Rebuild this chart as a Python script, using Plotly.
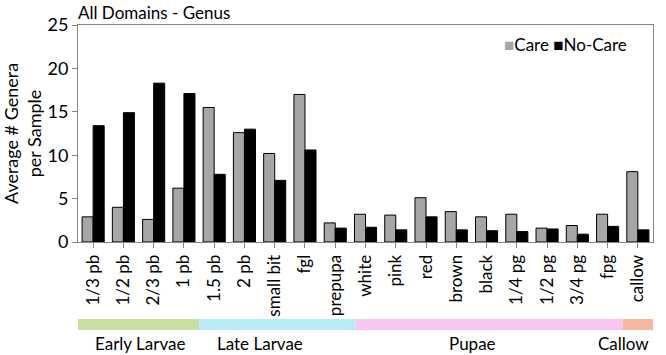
import plotly.graph_objects as go

categories = ["1/3 pb", "1/2 pb", "2/3 pb", "1 pb", "1.5 pb", "2 pb", "small bit", "fgl",
              "prepupa", "white", "pink", "red", "brown", "black", "1/4 pg", "1/2 pg",
              "3/4 pg", "fpg", "callow"]
care = [2.9, 4.0, 2.6, 6.2, 15.5, 12.6, 10.2, 17.0, 2.2, 3.2, 3.1, 5.1, 3.5, 2.9, 3.2, 1.6, 1.9, 3.2, 8.1]
no_care = [13.4, 14.9, 18.3, 17.1, 7.8, 13.0, 7.1, 10.6, 1.6, 1.7, 1.4, 2.9, 1.4, 1.3, 1.2, 1.5, 0.9, 1.8, 1.4]

series_names = ["Care", "No-Care"]
series_colors = ["#a6a6a6", "#000000"]

stage_names = ["Early Larvae", "Late Larvae", "Pupae", "Callow"]
stage_start = [-0.5, 3.5, 8.68, 17.5]
stage_end = [3.5, 8.68, 17.5, 18.5]
stage_label_x = [1.55, 5.51, 12.52, 17.54]
stage_colors = ["#c6e0a4", "#b8ecf4", "#f8c4f0", "#f4b8a0"]

FONT = "Lato, Open Sans, sans-serif"

fig = go.Figure()
for name, vals, col in zip(series_names, [care, no_care], series_colors):
    fig.add_trace(go.Bar(x=categories, y=vals, name=name,
                         marker=dict(color=col, line=dict(color="#000000", width=1))))

for s0, s1, c in zip(stage_start, stage_end, stage_colors):
    fig.add_shape(type="rect", xref="x", yref="paper", x0=s0, x1=s1, y0=-0.406, y1=-0.355,
                  fillcolor=c, line=dict(width=0), layer="above")
for name, lx in zip(stage_names, stage_label_x):
    fig.add_annotation(x=lx, y=-0.47, xref="x", yref="paper", text=name, showarrow=False,
                       font=dict(size=17, color="#000000", family=FONT),
                       xanchor="center", yanchor="middle")

# compact legend drawn as text, as in the reference
legend_text = "&nbsp;".join(
    f'<span style="color:{c}">■</span>{n}' for n, c in zip(series_names, series_colors)
)
fig.add_annotation(x=0.958, y=0.91, xref="paper", yref="paper", text=legend_text,
                   showarrow=False, xanchor="right", yanchor="middle",
                   font=dict(size=17, color="#000000", family=FONT))

fig.update_layout(
    width=666, height=355,
    margin=dict(l=78, r=13, t=25, b=113, autoexpand=False),
    paper_bgcolor="white", plot_bgcolor="white",
    font=dict(family=FONT, color="#000000"),
    barmode="group", bargap=0.27, bargroupgap=0,
    title=dict(text="All Domains - Genus", x=78/666, xanchor="left", y=1 - 13/355, yanchor="middle",
               font=dict(size=17, family=FONT, color="#000000")),
    showlegend=False,
    xaxis=dict(
        type="category", range=[-0.5, 18.5], tickangle=-90, automargin=False,
        showline=True, linecolor="#868686", linewidth=1, mirror=True,
        ticks="outside", ticklen=5, tickcolor="#868686",
        tickfont=dict(size=17, family=FONT), showgrid=False,
    ),
    yaxis=dict(
        range=[0, 25], dtick=5, showgrid=False, automargin=False,
        showline=True, linecolor="#868686", linewidth=1, mirror=True,
        ticks="outside", ticklen=5, tickcolor="#868686",
        tickfont=dict(size=18, family=FONT),
        title=dict(text="Average # Genera<br>per Sample", font=dict(size=18, family=FONT), standoff=3),
    ),
)

fig.write_html("out.html", config={"displayModeBar": False},
               post_script="document.body.style.margin='0';document.body.style.overflow='hidden';")
